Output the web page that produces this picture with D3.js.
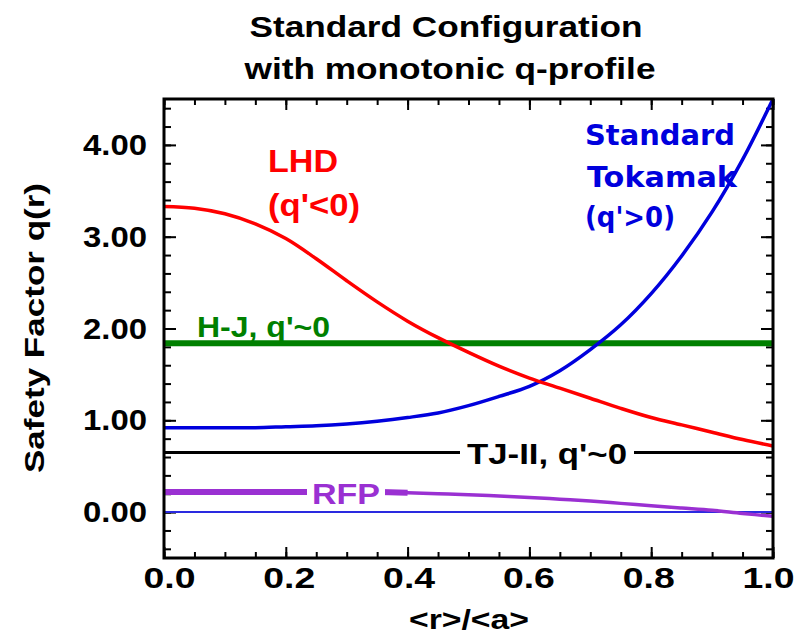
<!DOCTYPE html>
<html lang="en">
<head>
    <meta charset="UTF-8">
    <title>Standard Configuration with monotonic q-profile</title>
    <style>
        body { margin: 0; background: #fff; }
        text { font-family: "Liberation Sans", Arial, sans-serif; font-weight: bold; }
    </style>
</head>
<body>

    <div id="d3-container"></div>

    <script src="https://d3js.org/d3.v7.min.js"></script>
    <script>
        // normalised radius <r>/<a>
        const radius = [0, 0.05, 0.1, 0.15, 0.2, 0.25, 0.3, 0.35, 0.4, 0.45, 0.5,
                        0.55, 0.6, 0.65, 0.7, 0.75, 0.8, 0.85, 0.9, 0.95, 1.0];
        const lhdQ = [3.33, 3.31, 3.25, 3.14, 2.98, 2.76, 2.52, 2.29, 2.08, 1.90, 1.74,
                      1.59, 1.46, 1.35, 1.24, 1.13, 1.03, 0.95, 0.87, 0.79, 0.72];
        const tokamakQ = [0.92, 0.92, 0.92, 0.92, 0.93, 0.94, 0.96, 0.99, 1.03, 1.08, 1.16,
                          1.26, 1.37, 1.54, 1.77, 2.04, 2.38, 2.79, 3.27, 3.84, 4.50];
        const rfpQ = [0.22, 0.22, 0.22, 0.22, 0.22, 0.22, 0.22, 0.22, 0.21, 0.20, 0.19,
                      0.175, 0.16, 0.14, 0.12, 0.095, 0.07, 0.045, 0.02, -0.015, -0.045];
        const flatR = [0, 1];
        const hjQ = [1.84, 1.84];
        const tjQ = [0.65, 0.65];
        const zeroQ = [0, 0];

        const xTicks = [0, 0.2, 0.4, 0.6, 0.8, 1.0];
        const yTicks = [0, 1, 2, 3, 4];

        const width = 798;
        const height = 644;
        const margin = { top: 99, right: 25, bottom: 86, left: 164 };

        const svg = d3.select('#d3-container')
            .append('svg')
            .attr('width', width)
            .attr('height', height);

        const x = d3.scaleLinear()
            .domain([0, 1])
            .range([margin.left, width - margin.right]);

        const y = d3.scaleLinear()
            .domain([-0.5, 4.5])
            .range([height - margin.bottom, margin.top]);

        const minorX = d3.range(0, 1.0001, 0.05);
        const minorY = d3.range(-0.4, 4.5, 0.2);

        // ticks on all four sides, pointing inward
        function tickAxis(axis, values, size, pos) {
            const g = svg.append('g')
                .attr('transform', pos)
                .call(axis.tickValues(values).tickSize(-size).tickFormat(''));
            g.select('.domain').remove();
            g.selectAll('line').attr('stroke', '#000').attr('stroke-width', 2);
            return g;
        }
        const bottomY = `translate(0,${y(-0.5)})`;
        const leftX = `translate(${x(0)},0)`;
        tickAxis(d3.axisBottom(x), minorX, 6, bottomY);
        tickAxis(d3.axisTop(x), minorX, 6, `translate(0,${y(4.5)})`);
        tickAxis(d3.axisTop(x), xTicks, 11, `translate(0,${y(4.5)})`);
        tickAxis(d3.axisLeft(y), minorY, 7, leftX);
        tickAxis(d3.axisRight(y), minorY, 7, `translate(${x(1)},0)`);
        tickAxis(d3.axisRight(y), yTicks, 12, `translate(${x(1)},0)`);

        const xAxis = svg.append('g')
            .attr('transform', bottomY)
            .call(d3.axisBottom(x).tickValues(xTicks).tickSize(-11).tickPadding(9)
                .tickFormat(d3.format('.1f')));
        xAxis.select('.domain').remove();
        xAxis.selectAll('line').attr('stroke-width', 2);
        xAxis.selectAll('text')
            .attr('font-size', 30).attr('font-family', null).attr('fill', '#000')
            .attr('dx', d => (0.5 - d) * 10)
            .attr('textLength', 52).attr('lengthAdjust', 'spacingAndGlyphs');

        const yAxis = svg.append('g')
            .attr('transform', leftX)
            .call(d3.axisLeft(y).tickValues(yTicks).tickSize(-12).tickPadding(17)
                .tickFormat(d3.format('.2f')));
        yAxis.select('.domain').remove();
        yAxis.selectAll('line').attr('stroke-width', 2);
        yAxis.selectAll('text')
            .attr('font-size', 30).attr('font-family', null).attr('fill', '#000')
            .attr('textLength', 64).attr('lengthAdjust', 'spacingAndGlyphs');

        // curves
        const plot = svg.append('g');
        function drawSeries(rs, qs, color, w) {
            plot.append('path')
                .datum(rs.map((r, i) => [r, qs[i]]))
                .attr('d', d3.line().curve(d3.curveCatmullRom.alpha(0.5)).x(d => x(d[0])).y(d => y(d[1])))
                .attr('fill', 'none')
                .attr('stroke', color)
                .attr('stroke-width', w);
        }
        drawSeries(flatR, zeroQ, '#2a2ae0', 2);
        drawSeries(radius, rfpQ, '#9a30d2', 3.5);
        drawSeries(radius.filter(r => r <= 0.4), rfpQ.filter((q, i) => radius[i] <= 0.4), '#9a30d2', 6);
        drawSeries(flatR, tjQ, '#000', 3);
        drawSeries(flatR, hjQ, '#008000', 6);
        drawSeries(radius, tokamakQ, '#0000dd', 3.5);
        drawSeries(radius, lhdQ, '#ff0000', 3.5);

        // frame
        svg.append('rect')
            .attr('x', x(0)).attr('y', y(4.5))
            .attr('width', x(1) - x(0)).attr('height', y(-0.5) - y(4.5))
            .attr('fill', 'none').attr('stroke', '#000').attr('stroke-width', 3);

        // labels
        function label(txt, px, py, color, size, len, opts = {}) {
            const t = svg.append('text')
                .attr('x', px).attr('y', py)
                .attr('fill', color)
                .attr('font-size', size)
                .attr('text-anchor', opts.anchor || 'start')
                .attr('textLength', len)
                .attr('lengthAdjust', 'spacingAndGlyphs')
                .text(txt);
            if (opts.family) t.style('font-family', opts.family);
            if (opts.rotate) t.attr('transform', `rotate(-90,${px},${py})`);
            if (opts.knockout) {
                const b = t.node().getBBox();
                svg.insert('rect', () => t.node())
                    .attr('x', b.x - opts.knockout).attr('y', b.y + 4)
                    .attr('width', b.width + 2 * opts.knockout).attr('height', b.height - 8)
                    .attr('fill', '#fff');
            }
            return t;
        }

        label('Standard Configuration', 446, 37, '#000', 30, 393, { anchor: 'middle' });
        label('with monotonic q-profile', 450, 79, '#000', 30, 411, { anchor: 'middle' });
        label('Safety Factor q(r)', 44, 328, '#000', 28, 290, { anchor: 'middle', rotate: true });
        label('<r>/<a>', 469, 629, '#000', 28, 120, { anchor: 'middle' });

        label('LHD', 268, 172, '#ff0000', 31, 70);
        label('(q\'<0)', 268, 216, '#ff0000', 31, 92);
        label('Standard', 585, 145, '#0000dd', 29, 150, { family: '"DejaVu Sans", Verdana, sans-serif' });
        label('Tokamak', 587, 187, '#0000dd', 29, 150, { family: '"DejaVu Sans", Verdana, sans-serif' });
        label('(q\'>0)', 585, 227, '#0000dd', 29, 90, { family: '"DejaVu Sans", Verdana, sans-serif' });
        label('H-J, q\'~0', 197, 337, '#008000', 29, 133);
        label('TJ-II, q\'~0', 467, 464, '#000', 29, 160, { knockout: 7 });
        label('RFP', 312, 504, '#9a30d2', 29, 68, { knockout: 5 });
    </script>

</body>
</html>
